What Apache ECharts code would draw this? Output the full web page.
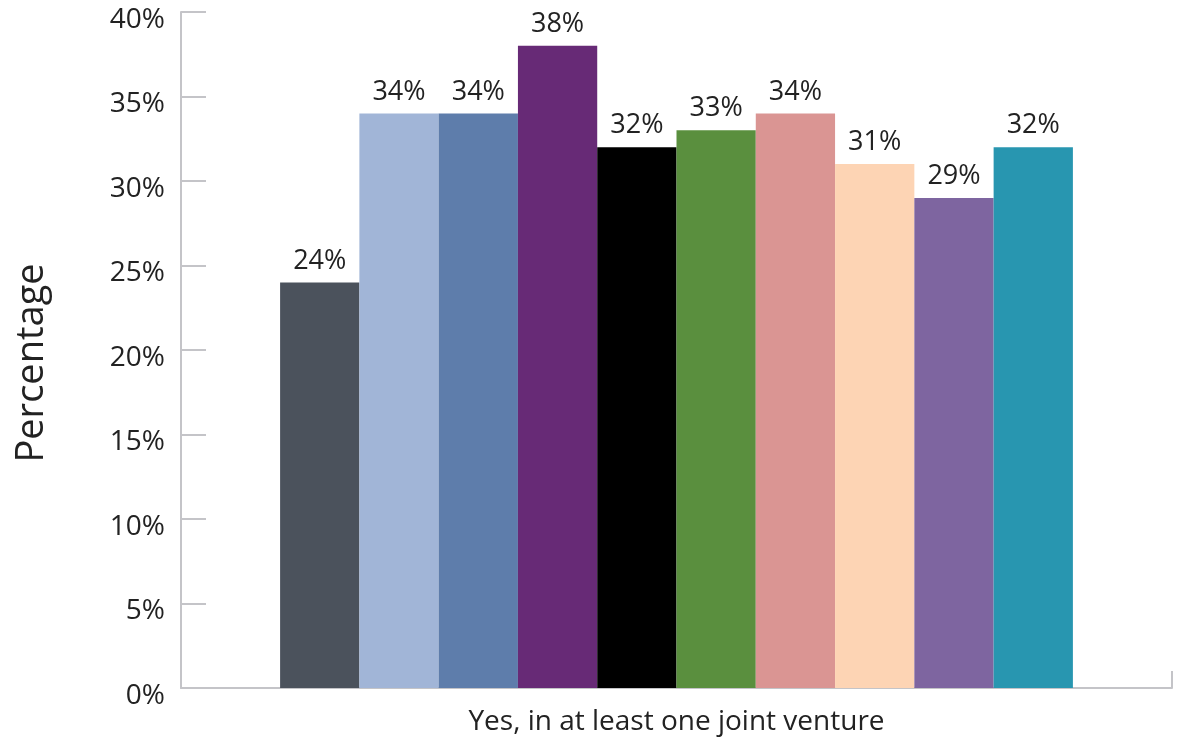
<!DOCTYPE html>
<html>
<head>
<meta charset="utf-8">
<script src="https://cdn.jsdelivr.net/npm/echarts@6/dist/echarts.min.js"></script>
<style>
  html, body { margin: 0; padding: 0; background: #fff; }
  #chart { width: 1183px; height: 741px; }
</style>
</head>
<body>
<div id="chart"></div>
<script>
const categories = ['Yes, in at least one joint venture']
const seriesNames = ['S1', 'S2', 'S3', 'S4', 'S5', 'S6', 'S7', 'S8', 'S9', 'S10']
const seriesValues = [24, 34, 34, 38, 32, 33, 34, 31, 29, 32]
const colors = ['#4b525c', '#a1b5d7', '#5e7dab', '#672a76', '#000000',
  '#5a8f3e', '#da9593', '#fdd4b4', '#7e65a0', '#2896b0']

const font = '"Open Sans", "Noto Sans", sans-serif'
const textColor = '#222'
const chart = echarts.init(document.getElementById('chart'))

chart.setOption({
  animation: false,
  grid: { left: 181, right: 11, top: 12, bottom: 53 },
  xAxis: {
    type: 'category',
    data: categories,
    axisLine: { lineStyle: { color: '#c4c4c8', width: 2 } },
    axisTick: { show: true, inside: true, length: 17, lineStyle: { color: '#c4c4c8', width: 2 } },
    axisLabel: { color: textColor, fontSize: 28, fontFamily: font, margin: 20 },
  },
  yAxis: {
    type: 'value',
    min: 0,
    max: 40,
    interval: 5,
    name: 'Percentage',
    nameLocation: 'middle',
    nameGap: 130,
    nameTextStyle: { color: textColor, fontSize: 38, fontFamily: font, padding: [0, 26, 0, 0] },
    axisLine: { show: true, lineStyle: { color: '#c4c4c8', width: 2 } },
    axisTick: { show: true, inside: true, length: 25, lineStyle: { color: '#c4c4c8', width: 2 } },
    splitLine: { show: false },
    axisLabel: {
      margin: 16,
      formatter: '{t|{value}%}',
      rich: { t: { color: textColor, fontSize: 28, fontFamily: font, padding: [16, 0, 0, 0] } },
    },
  },
  series: seriesNames.map((name, i) => ({
    name,
    type: 'bar',
    data: [seriesValues[i]],
    barGap: '0%',
    barCategoryGap: '20%',
    itemStyle: { color: colors[i] },
    label: {
      show: true,
      position: 'top',
      distance: 8,
      formatter: '{c}%',
      color: textColor,
      fontSize: 27,
      fontFamily: font,
    },
  })),
})
</script>
</body>
</html>
